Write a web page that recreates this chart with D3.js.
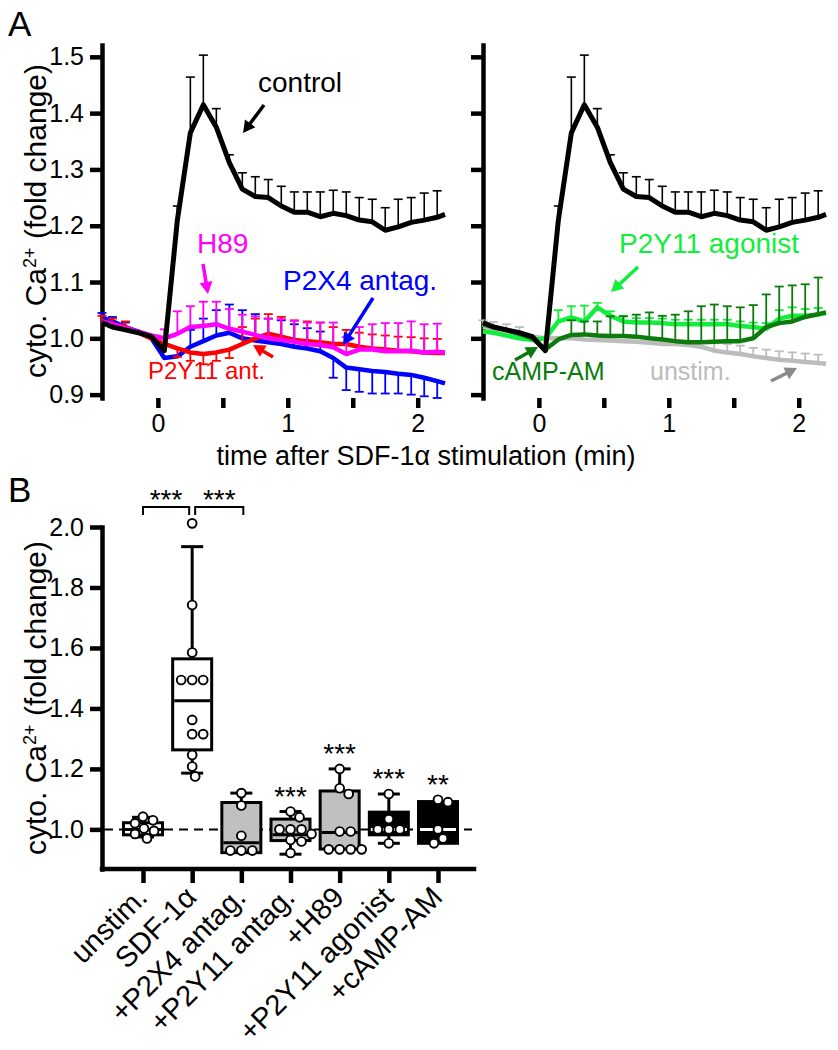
<!DOCTYPE html>
<html><head><meta charset="utf-8">
<script src="https://cdn.jsdelivr.net/npm/d3@7"></script>
<style>body{margin:0;background:#fff}svg{display:block}</style>
</head><body><svg id="c" width="838" height="1050"></svg>
<script>
// ---------------- DATA ----------------
const timeA = [-0.43,-0.35,-0.25,-0.15,-0.05,0.05,0.15,0.25,0.35,0.45,0.55,0.65,0.75,0.85,0.95,1.05,1.15,1.25,1.35,1.45,1.55,1.65,1.75,1.85,1.95,2.05,2.15,2.21];
const controlMean = [1.028,1.02,1.015,1.01,1.003,0.978,1.21,1.365,1.415,1.375,1.312,1.265,1.252,1.25,1.235,1.224,1.224,1.216,1.222,1.218,1.21,1.207,1.192,1.198,1.206,1.21,1.215,1.22];
const controlUp   = [null,null,null,null,null,null,0.025,0.099,0.088,0.033,0.014,0.029,0.035,0.032,0.035,0.036,0.036,0.044,0.041,0.042,0.04,0.04,0.04,0.049,0.044,0.048,0.047,null];
const p2x4Mean = [1.037,1.03,1.02,1.012,1.0,0.965,0.968,0.985,0.995,1.005,1.01,1.0,0.996,0.993,0.99,0.985,0.982,0.977,0.965,0.948,0.945,0.942,0.94,0.937,0.935,0.93,0.924,0.92];
const p2x4Up   = [0.008,0.008,0.008,null,null,null,null,0.03,0.04,0.045,0.05,0.05,0.047,0.042,0.042,0.04,0.036,0.035,null,null,null,null,null,null,null,null,null,null];
const p2x4Down = [null,null,null,null,null,null,null,null,null,null,null,null,null,null,null,null,null,null,0.035,0.04,0.04,0.04,0.038,0.035,0.035,0.033,0.03,null];
const p2y11antMean = [1.03,1.025,1.02,1.01,1.0,0.99,0.982,0.975,0.972,0.975,0.98,0.99,1.0,1.008,1.003,0.997,0.995,0.993,0.99,0.99,0.985,0.982,0.98,0.978,0.977,0.975,0.974,0.974];
const p2y11antUp   = [0.01,0.01,0.01,null,null,null,null,null,null,null,null,0.03,0.035,0.035,0.035,0.035,0.035,0.035,0.03,0.025,0.025,0.025,0.025,0.025,0.025,0.025,0.025,null];
const p2y11antDown = [null,null,null,null,null,null,0.015,0.015,0.018,0.015,0.015,null,null,null,null,null,null,null,null,null,null,null,null,null,null,null,null,null];
const h89Mean = [1.03,1.025,1.018,1.012,1.005,1.0,1.008,1.02,1.022,1.025,1.017,1.012,1.006,1.0,0.997,0.994,0.99,0.988,0.984,0.972,0.98,0.98,0.977,0.977,0.978,0.975,0.976,0.975];
const h89Up   = [null,null,null,null,null,0.016,0.04,0.037,0.043,0.04,0.035,0.03,0.033,0.035,0.037,0.037,0.038,0.04,0.044,0.03,0.04,0.045,0.05,0.05,0.052,0.05,0.05,null];
const agonistMean = [1.012,1.01,1.005,1.0,0.997,1.0,1.03,1.037,1.03,1.055,1.04,1.03,1.028,1.028,1.027,1.025,1.025,1.025,1.025,1.025,1.022,1.02,1.017,1.035,1.04,1.04,1.042,1.045];
const agonistUp   = [null,null,null,null,null,null,0.02,0.02,0.028,0.008,0.008,0.01,0.008,0.008,0.008,0.008,0.008,0.008,0.008,0.008,0.008,0.008,0.01,0.015,0.015,0.012,0.012,null];
const campMean = [1.025,1.02,1.015,1.008,1.0,0.98,0.998,1.006,1.007,1.005,1.004,1.004,1.003,1.0,0.998,0.995,0.993,0.993,0.994,0.995,0.995,1.0,1.02,1.027,1.03,1.038,1.043,1.046];
const campUp   = [null,null,null,null,null,null,null,0.026,0.023,0.025,0.035,0.035,0.039,0.046,0.042,0.047,0.055,0.064,0.066,0.062,0.06,0.059,0.058,0.065,0.064,0.058,0.065,null];
const unstimMean = [1.02,1.017,1.013,1.008,1.003,1.0,1.0,1.0,0.998,0.997,0.996,0.995,0.994,0.992,0.99,0.99,0.988,0.985,0.978,0.975,0.972,0.968,0.965,0.962,0.96,0.958,0.956,0.955];
const unstimUp   = [0.012,0.012,0.012,0.012,null,null,null,null,null,null,null,null,null,null,null,null,null,null,0.015,0.015,0.015,0.015,0.015,0.015,0.015,0.015,0.015,null];
const yTicksA = [0.9,1.0,1.1,1.2,1.3,1.4,1.5];
const xTicksA = [0,0.5,1,1.5,2];

const catsB = ["unstim.","SDF-1\u03B1","+P2X4 antag.","+P2Y11 antag.","+H89","+P2Y11 agonist","+cAMP-AM"];
const q1B     = [0.982,1.263,0.923,0.963,0.935,0.982,0.954];
const medianB = [1.0,1.425,0.956,0.982,0.99,1.0,1.0];
const q3B     = [1.022,1.564,1.089,1.034,1.127,1.057,1.092];
const whLoB   = [0.975,1.186,0.923,0.918,0.935,0.954,0.954];
const whHiB   = [1.04,1.935,1.12,1.059,1.2,1.117,1.092];
const pointsB = [
  [1.042,1.03,1.02,1.003,0.995,0.985,0.97],
  [2.012,1.742,1.585,1.494,1.494,1.494,1.362,1.315,1.315,1.246,1.208,1.175],
  [1.12,1.079,0.979,0.93,0.93,0.93],
  [1.059,1.04,1.0,1.0,1.0,0.985,0.965,0.96,0.922],
  [1.2,1.136,1.117,0.993,0.993,0.934,0.934,0.934,0.934],
  [1.117,1.034,1.0,1.0,1.0,0.954],
  [1.098,1.09,1.0,0.97,0.954]
];
const sigB = ["","","","***","***","***","**"];
const yTicksB = [1.0,1.2,1.4,1.6,1.8,2.0];

// ---------------- DRAW ----------------
const FONT = '"Liberation Sans", Arial, sans-serif';
const svg = d3.select("#c").attr("font-family", FONT);

const xA1 = d3.scaleLinear().domain([-0.43,2.21]).range([102,445]);
const xA2 = d3.scaleLinear().domain([-0.43,2.21]).range([483,826]);
const yA  = d3.scaleLinear().domain([0.894,1.521]).range([398,45]);

function styleAxis(g, w) {
  g.attr("font-family", FONT).attr("font-size", 25);
  g.select(".domain").attr("stroke","#000").attr("stroke-width",w).attr("stroke-linecap","square");
  g.selectAll(".tick line").attr("stroke","#000").attr("stroke-width",w);
  g.selectAll(".tick text").attr("fill","#000");
}

// Panel A axes
const fmt1 = d3.format(".1f");
svg.append("g").attr("transform","translate(102,0)")
  .call(d3.axisLeft(yA).tickValues(yTicksA).tickSize(12).tickSizeOuter(0).tickPadding(6).tickFormat(fmt1))
  .call(g => styleAxis(g, 4.5));
svg.append("g").attr("transform","translate(483,0)")
  .call(d3.axisLeft(yA).tickValues(yTicksA).tickSize(12).tickSizeOuter(0).tickFormat(""))
  .call(g => styleAxis(g, 4.5));
[xA1, xA2].forEach(xs => {
  svg.append("g").attr("transform","translate(0,398)")
    .call(d3.axisBottom(xs).tickValues(xTicksA).tickSize(10).tickSizeOuter(0).tickPadding(6)
      .tickFormat(d => Number.isInteger(d) ? String(d) : ""))
    .call(g => styleAxis(g, 4.5))
    .call(g => g.select(".domain").remove());
});

// traces
function series(xs, mean, up, down, color, lw, ebw) {
  const g = svg.append("g");
  const cap = 4.5;
  const bars = (arr, sign) => {
    if (!arr) return;
    timeA.forEach((t, i) => {
      if (arr[i] == null || mean[i] == null) return;
      const x = xs(t), y0 = yA(mean[i]), y1 = yA(mean[i] + sign*arr[i]);
      g.append("line").attr("x1",x).attr("x2",x).attr("y1",y0).attr("y2",y1)
        .attr("stroke",color).attr("stroke-width",ebw);
      g.append("line").attr("x1",x-cap).attr("x2",x+cap).attr("y1",y1).attr("y2",y1)
        .attr("stroke",color).attr("stroke-width",ebw);
    });
  };
  bars(up, 1); bars(down, -1);
  const line = d3.line().defined(d => d[1] != null).x(d => xs(d[0])).y(d => yA(d[1]));
  g.append("path").attr("d", line(timeA.map((t,i) => [t, mean[i]])))
    .attr("fill","none").attr("stroke",color).attr("stroke-width",lw)
    .attr("stroke-linejoin","round").attr("stroke-linecap","butt");
}
const C = {black:"#000", mag:"#ff00ff", blue:"#0000ff", red:"#ff0000", lg:"#12ee3c", dg:"#0b7b0b", gray:"#bcbcbc"};
series(xA1, p2x4Mean, p2x4Up, p2x4Down, C.blue, 4.5, 1.8);
series(xA1, p2y11antMean, p2y11antUp, p2y11antDown, C.red, 4.5, 1.8);
series(xA1, h89Mean, h89Up, null, C.mag, 4.5, 1.8);
series(xA1, controlMean, controlUp, null, C.black, 5, 1.6);
series(xA2, unstimMean, unstimUp, null, C.gray, 4.5, 1.8);
series(xA2, agonistMean, agonistUp, null, C.lg, 4.5, 1.8);
series(xA2, campMean, campUp, null, C.dg, 4.5, 1.8);
series(xA2, controlMean, controlUp, null, C.black, 5, 1.6);

// annotations
function arrow(x1,y1,x2,y2,color){
  const a = Math.atan2(y2-y1,x2-x1), L=12, W=6.5;
  const bx = x2 - L*Math.cos(a), by = y2 - L*Math.sin(a);
  svg.append("line").attr("x1",x1).attr("y1",y1).attr("x2",bx+2*Math.cos(a)).attr("y2",by+2*Math.sin(a))
    .attr("stroke",color).attr("stroke-width",3.5);
  svg.append("path").attr("d",`M${x2},${y2}L${bx+W*Math.sin(a)},${by-W*Math.cos(a)}L${bx-W*Math.sin(a)},${by+W*Math.cos(a)}Z`)
    .attr("fill",color);
}
function label(txt,x,y,color,size,anchor){
  return svg.append("text").attr("x",x).attr("y",y).attr("fill",color).attr("font-size",size||28)
    .attr("text-anchor",anchor||"start").text(txt);
}
label("control",258,92,C.black); arrow(264,105,243,133,C.black);
label("H89",197,253,C.mag); arrow(203,264,208,294,C.mag);
label("P2X4 antag.",283,290,C.blue); arrow(373,298,343,345,C.blue);
label("P2Y11 ant.",148,379,C.red,24); arrow(273,357,253,345,C.red);
label("P2Y11 agonist",619,253,C.lg); arrow(638,267,611,292,C.lg);
label("cAMP-AM",492,380,C.dg,25); arrow(515,360,538,347,C.dg);
label("unstim.",650,380,C.gray,25); arrow(771,381,797,368,"#8a8a8a");

// axis titles A
label("time after SDF-1\u03B1 stimulation (min)",426,465,"#000",27,"middle");
function yTitle(cx, cy){
  const t = svg.append("text").attr("transform",`translate(${cx},${cy}) rotate(-90)`)
    .attr("text-anchor","middle").attr("font-size",30).attr("fill","#000");
  t.append("tspan").text("cyto. Ca");
  t.append("tspan").attr("baseline-shift","super").attr("font-size",18).text("2+");
  t.append("tspan").text(" (fold change)");
}
yTitle(46,221);
label("A",8,36,"#000",35);
label("B",8,502,"#000",35);

// ---------------- Panel B ----------------
const xB = d3.scalePoint().domain(catsB).range([143,438]);
const yB = d3.scaleLinear().domain([0.869,2.0]).range([869,527]);
svg.append("g").attr("transform","translate(102,0)")
  .call(d3.axisLeft(yB).tickValues(yTicksB).tickSize(12).tickSizeOuter(0).tickPadding(6).tickFormat(fmt1))
  .call(g => styleAxis(g, 4.5));
const gxB = svg.append("g").attr("transform","translate(0,869)")
  .call(d3.axisBottom(xB).tickSize(14).tickSizeOuter(0).tickFormat(""))
  .call(g => styleAxis(g, 4.5));
gxB.select(".domain").remove();
svg.append("line").attr("x1",102).attr("x2",474).attr("y1",869).attr("y2",869)
  .attr("stroke","#000").attr("stroke-width",4.5).attr("stroke-linecap","square");
catsB.forEach(c => {
  svg.append("text").attr("transform",`translate(${xB(c)+6},${899}) rotate(-45)`)
    .attr("text-anchor","end").attr("font-size",29).attr("fill","#000").text(c);
});
yTitle(46,698);

// dashed reference at 1.0
svg.append("line").attr("x1",104).attr("x2",472).attr("y1",yB(1)).attr("y2",yB(1))
  .attr("stroke","#000").attr("stroke-width",2).attr("stroke-dasharray","9,6");

const fills = ["#fff","#fff","#c0c0c0","#c0c0c0","#c0c0c0","#000","#000"];
const medCol = ["#000","#000","#000","#000","#000","#fff","#fff"];
const bw = 39, capW = 22;
catsB.forEach((c,i) => {
  const x = xB(c);
  const g = svg.append("g");
  [[q3B[i], whHiB[i]],[q1B[i], whLoB[i]]].forEach(([a,b]) => {
    if (Math.abs(a-b) < 1e-6) return;
    g.append("line").attr("x1",x).attr("x2",x).attr("y1",yB(a)).attr("y2",yB(b)).attr("stroke","#000").attr("stroke-width",3);
    g.append("line").attr("x1",x-capW/2).attr("x2",x+capW/2).attr("y1",yB(b)).attr("y2",yB(b)).attr("stroke","#000").attr("stroke-width",3);
  });
  g.append("rect").attr("x",x-bw/2).attr("width",bw).attr("y",yB(q3B[i])).attr("height",yB(q1B[i])-yB(q3B[i]))
    .attr("fill",fills[i]).attr("stroke","#000").attr("stroke-width",3);
  g.append("line").attr("x1",x-bw/2+1.5).attr("x2",x+bw/2-1.5).attr("y1",yB(medianB[i])).attr("y2",yB(medianB[i]))
    .attr("stroke",medCol[i]).attr("stroke-width",3);
  const r = 5.1, placed = [];
  pointsB[i].map(v => yB(v)).sort((a,b)=>a-b).forEach(py => {
    let off = 0;
    for (let k=0;k<400;k++){
      const cand = k===0?0:(k%2?Math.ceil(k/2):-k/2);
      if (placed.every(q => Math.hypot(q.x-(x+cand), q.y-py) >= 2*r)) { off = cand; break; }
    }
    placed.push({x:x+off, y:py});
  });
  placed.forEach(p => g.append("circle").attr("cx",p.x).attr("cy",p.y).attr("r",4.4)
    .attr("fill","#fff").attr("stroke","#000").attr("stroke-width",1.9));
  if (sigB[i]) {
    const top = Math.max(whHiB[i], d3.max(pointsB[i]));
    svg.append("text").attr("x",x).attr("y",yB(top)-6).attr("text-anchor","middle")
      .attr("font-size",28).attr("fill","#000").text(sigB[i]);
  }
});
const by = 507;
[[xB(catsB[0]), xB(catsB[1])-3],[xB(catsB[1])+3, xB(catsB[2])+2]].forEach(([a,b]) => {
  svg.append("path").attr("d",`M${a},${by+8}V${by}H${b}V${by+8}`).attr("fill","none")
    .attr("stroke","#000").attr("stroke-width",2);
  svg.append("text").attr("x",(a+b)/2).attr("y",509).attr("text-anchor","middle")
    .attr("font-size",28).attr("fill","#000").text("***");
});
</script></body></html>
